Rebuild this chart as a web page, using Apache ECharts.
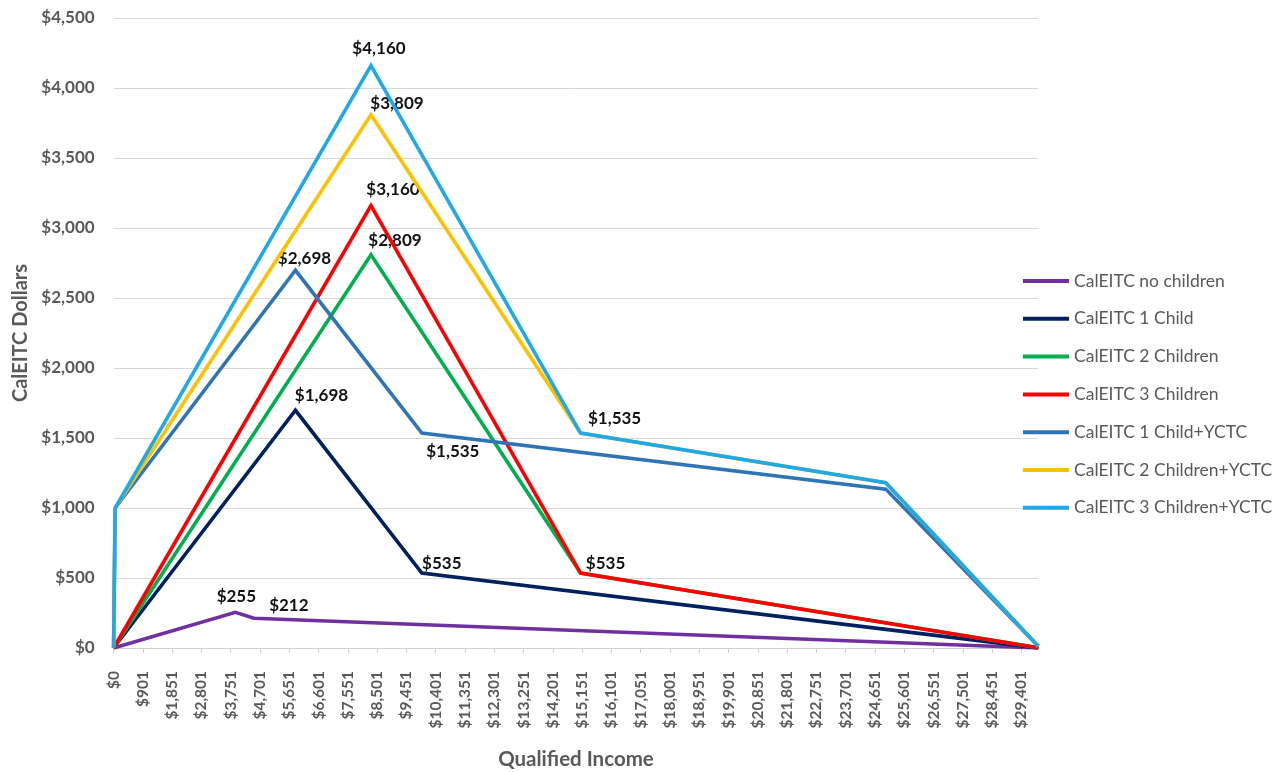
<!DOCTYPE html>
<html>
<head>
<meta charset="utf-8">
<script src="https://cdn.jsdelivr.net/npm/echarts@6/dist/echarts.min.js"></script>
<style>
  html, body { margin: 0; padding: 0; background: #fff; }
  #chart { width: 1284px; height: 772px; }
</style>
</head>
<body>
<div id="chart"></div>
<script>
// Income categories: $0, then $1 and every $50 after it up to $29,951
const incomeStep = 50;
const lastIncome = 29951;

// Series: [qualified income, credit in dollars] at each corner of the schedule
const noChildren      = [[0, 0], [1, 0], [3901, 255], [4501, 212], [29951, 0]];
const oneChild        = [[0, 0], [1, 0], [5851, 1698], [9951, 535], [29951, 1]];
const twoChildren     = [[0, 0], [1, 0], [8301, 2809], [15101, 535], [29951, 2]];
const threeChildren   = [[0, 0], [1, 0], [8301, 3160], [15101, 535], [29951, 2]];
const oneChildYctc    = [[0, 0], [1, 1000], [5851, 2698], [9951, 1535], [25001, 1135], [29951, 12]];
const twoChildrenYctc = [[0, 0], [1, 1000], [8301, 3809], [15101, 1535], [25001, 1180], [29951, 12]];
const threeChildrenYctc = [[0, 0], [1, 1000], [8301, 4160], [15101, 1535], [25001, 1180], [29951, 12]];

const seriesNames = [
  'CalEITC no children', 'CalEITC 1 Child', 'CalEITC 2 Children', 'CalEITC 3 Children',
  'CalEITC 1 Child+YCTC', 'CalEITC 2 Children+YCTC', 'CalEITC 3 Children+YCTC'
];
const seriesData = [noChildren, oneChild, twoChildren, threeChildren, oneChildYctc, twoChildrenYctc, threeChildrenYctc];
const seriesColors = ['#7030A0', '#002060', '#00B050', '#FF0000', '#2E75B6', '#FFC000', '#1FA9E6'];

// Value labels: series index -> income -> label offset [dx, dy] from the point
const labelOffsets = {
  0: { 3901: [1, -16], 4501: [35, -13] },
  1: { 5851: [26, -15], 9951: [20, -10] },
  2: { 8301: [24, -14] },
  3: { 8301: [22, -16], 15101: [25, -10] },
  4: { 5851: [9, -12], 9951: [31, 18] },
  5: { 8301: [26, -11] },
  6: { 8301: [8, -17], 15101: [34, -15] }
};

const FONT = 'Lato, "Open Sans", sans-serif';
const GREY = '#595959';

const fmtDollar = v => '$' + Math.round(v).toLocaleString('en-US');

const categories = ['$0'];
for (let inc = 1; inc <= lastIncome; inc += incomeStep) categories.push(fmtDollar(inc));
const incomeIndex = inc => (inc === 0 ? 0 : (inc - 1) / incomeStep + 1);

const series = seriesData.map((pts, si) => ({
  name: seriesNames[si],
  type: 'line',
  color: seriesColors[si],
  symbol: 'circle',
  symbolSize: 0,
  showSymbol: true,
  showAllSymbol: true,
  lineStyle: { width: 3.6, color: seriesColors[si], join: 'miter' },
  emphasis: { disabled: true },
  z: 2 + si,
  data: pts.map(([inc, v]) => {
    const item = { value: [incomeIndex(inc), v] };
    const off = labelOffsets[si] && labelOffsets[si][inc];
    if (off) {
      item.label = {
        show: true,
        position: 'top',
        distance: 0,
        offset: [off[0], off[1] + 10],
        formatter: p => fmtDollar(p.value[1]),
        color: '#111',
        fontFamily: FONT,
        fontWeight: 'bold',
        fontSize: 17,
        lineHeight: 20
      };
    }
    return item;
  })
}));

const chart = echarts.init(document.getElementById('chart'), null, { renderer: 'canvas' });
chart.setOption({
  animation: false,
  backgroundColor: '#ffffff',
  grid: { left: 113.6, right: 245.7, top: 18, bottom: 124, containLabel: false, outerBoundsMode: 'none' },
  legend: {
    orient: 'vertical',
    left: 1018,
    top: 267,
    icon: 'rect',
    itemWidth: 46,
    itemHeight: 4,
    itemGap: 19.8,
    selectedMode: false,
    textStyle: { color: GREY, fontFamily: FONT, fontSize: 17.5, lineHeight: 18 },
    data: seriesNames
  },
  xAxis: {
    type: 'category',
    data: categories,
    boundaryGap: false,
    name: 'Qualified Income',
    nameLocation: 'middle',
    nameGap: 101,
    nameMoveOverlap: false,
    nameTextStyle: { color: GREY, fontFamily: FONT, fontWeight: 'bold', fontSize: 20.5 },
    axisLine: { lineStyle: { color: '#D0D0D0', width: 1 } },
    axisTick: { show: true, interval: 18, length: 5, lineStyle: { color: '#D0D0D0' } },
    axisLabel: {
      interval: 18,
      rotate: 90,
      margin: 23,
      color: GREY,
      fontFamily: FONT,
      fontWeight: 'bold',
      fontSize: 15.5
    },
    splitLine: { show: false }
  },
  yAxis: {
    type: 'value',
    min: 0,
    max: 4500,
    interval: 500,
    name: 'CalEITC Dollars',
    nameLocation: 'middle',
    nameGap: 83,
    nameRotate: 90,
    nameMoveOverlap: false,
    nameTextStyle: { color: GREY, fontFamily: FONT, fontWeight: 'bold', fontSize: 20 },
    axisLine: { show: false },
    axisTick: { show: false },
    axisLabel: {
      margin: 19,
      color: GREY,
      fontFamily: FONT,
      fontWeight: 'bold',
      fontSize: 17,
      formatter: v => fmtDollar(v)
    },
    splitLine: { lineStyle: { color: '#D9D9D9', width: 1 } }
  },
  series
});
</script>
</body>
</html>
